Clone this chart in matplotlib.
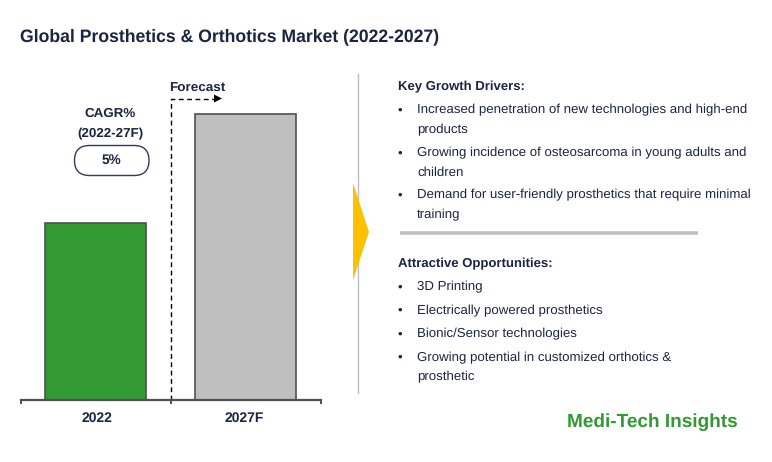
import matplotlib
matplotlib.use("Agg")
import matplotlib.pyplot as plt
from matplotlib.patches import FancyBboxPatch, Polygon

# bar heights (no value labels in the original)
categories = ["2022", "2027F"]
values = [177, 286]
bar_colors = ["#339933", "#BFBFBF"]

title = "Global Prosthetics & Orthotics Market (2022-2027)"
drivers_head = "Key Growth Drivers:"
drivers = [
    ["Increased penetration of new technologies and high-end", "products"],
    ["Growing incidence of osteosarcoma in young adults and", "children"],
    ["Demand for user-friendly prosthetics that require minimal", "training"],
]
opps_head = "Attractive Opportunities:"
opps = [
    ["3D Printing"],
    ["Electrically powered prosthetics"],
    ["Bionic/Sensor technologies"],
    ["Growing potential in customized orthotics &", "prosthetic"],
]

W, H = 772, 462
navy = "#1B2540"

plt.rcParams['font.family'] = ['Liberation Sans', 'DejaVu Sans']
plt.rcParams['text.hinting'] = 'no_hinting'

fig = plt.figure(figsize=(W / 100, H / 100), dpi=100)

# overlay in pixel coordinates for the annotations
over = fig.add_axes([0, 0, 1, 1])
over.set_xlim(0, W)
over.set_ylim(H, 0)
over.axis("off")

# bar axes
ax = fig.add_axes([21 / W, (H - 400) / H, 300 / W, 300 / H])
ax.bar(range(len(values)), values, width=0.673, color=bar_colors,
       edgecolor="#505050", linewidth=1.2)
ax.set_xlim(-0.497, 1.503)
ax.set_ylim(0, 300)
ax.patch.set_alpha(0)
for s in ["top", "left", "right"]:
    ax.spines[s].set_visible(False)
ax.spines["bottom"].set_color("#505050")
ax.spines["bottom"].set_linewidth(1.6)
ax.set_yticks([])
ax.set_xticks([-0.497, 0.503, 1.503])
ax.set_xticklabels([])
ax.tick_params(axis="x", direction="out", length=3, width=1.4, color="#505050")
for i, c in enumerate(categories):
    over.text([97, 244.5][i], 418.5, c, ha="center", va="center", fontsize=10,
              fontweight="bold", color=navy)

over.text(20, 36.5, title, ha="left", va="center", fontsize=12.7,
          fontweight="bold", color=navy)

# forecast marker
over.plot([171, 171, 214], [400, 98.5, 98.5], color="black", lw=1,
          dashes=(3.5, 2.5))
over.add_patch(Polygon([[214, 94.5], [222, 98.5], [214, 102.5]], color="black", lw=0))
over.text(197, 88.5, "Forecast", ha="center", va="center", fontsize=9.7,
          fontweight="bold", color=navy)

# CAGR badge
over.text(110, 114, "CAGR%", ha="center", va="center", fontsize=9.6,
          fontweight="bold", color=navy)
over.text(110.5, 133.5, "(2022-27F)", ha="center", va="center", fontsize=9.6,
          fontweight="bold", color=navy)
over.add_patch(FancyBboxPatch((74.5, 145.5), 74.5, 30,
                              boxstyle="round,pad=0,rounding_size=15",
                              fc="white", ec="#2F3B5A", lw=1))
over.text(111, 160.5, "5%", ha="center", va="center", fontsize=9.8,
          fontweight="bold", color=navy)

# divider and arrow
over.plot([358, 358], [74, 393], color="#BFBFBF", lw=1, zorder=1)
over.add_patch(Polygon([[353, 183], [369, 232], [353, 280]], color="#FFC000", lw=0,
                       zorder=3))
over.plot([400, 698], [233, 233], color="#BFBFBF", lw=2.6, solid_capstyle="butt")


def bullets(items, y_start, gaps):
    y = y_start
    for item, gap in zip(items, gaps):
        over.text(400, y, "•", ha="center", va="center", fontsize=9.5, color=navy)
        for k, line in enumerate(item):
            over.text(417, y + k * 19.5, line, ha="left", va="center", fontsize=9.5,
                      color=navy)
        y += gap


over.text(398, 87, drivers_head, ha="left", va="center", fontsize=9.45,
          fontweight="bold", color=navy)
bullets(drivers, 110.2, [43, 42, 0])

over.text(398, 263.5, opps_head, ha="left", va="center", fontsize=9.45,
          fontweight="bold", color=navy)
bullets(opps, 287, [23.5, 23.5, 23.5, 0])

over.text(567, 422.5, "Medi-Tech Insights", ha="left", va="center", fontsize=13.7,
          fontweight="bold", color="#339933")

fig.savefig("out.png", dpi=100)
